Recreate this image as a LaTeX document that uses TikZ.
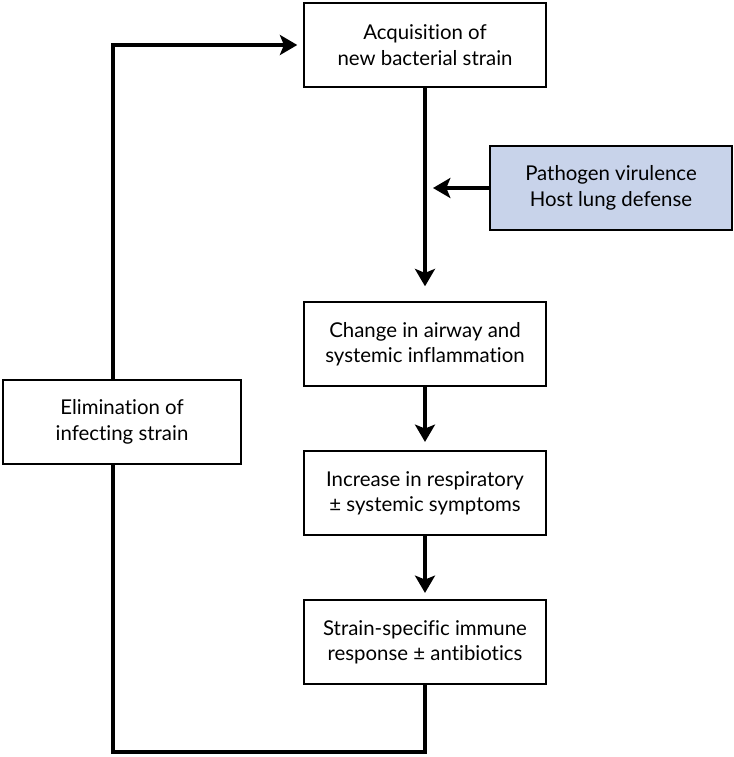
\documentclass[tikz,border=0pt]{standalone}
\usepackage{fontspec}
\setmainfont{Lato}[Ligatures={NoCommon,NoRare}]
\usetikzlibrary{arrows.meta}
\definecolor{hostblue}{RGB}{200,211,234}

\begin{document}
\begin{tikzpicture}[x=0.75pt, y=-0.75pt]
    \tikzstyle{StepBox}=[draw, line width=1.6pt, align=center,
        minimum width=181pt, minimum height=63pt, inner sep=0pt,
        font=\fontsize{15.3}{19}\selectfont]
    \tikzstyle{FactorBox}=[StepBox, fill=hostblue]
    \tikzstyle{Flow}=[line width=3pt, line join=miter,
        -{Stealth[length=13pt, width=15pt, inset=3pt]}]
    \tikzstyle{Loop}=[line width=3pt, line join=miter]
    \useasboundingbox (0,0) rectangle (733,757);
    \node[StepBox]   (acq)    at (425,45)  {Acquisition of\\new bacterial strain};
    \node[FactorBox] (host)   at (611,188) {Pathogen virulence\\Host lung defense};
    \node[StepBox]   (infl)   at (425,344) {Change in airway and\\systemic inflammation};
    \node[StepBox]   (symp)   at (425,493) {Increase in respiratory\\± systemic symptoms};
    \node[StepBox]   (immune) at (425,642) {Strain-specific immune\\response ± antibiotics};
    \node[StepBox, minimum width=178pt] (elim) at (122,422) {Elimination of\\infecting strain};
    \coordinate (hit) at (433,188);
    \coordinate (bl)  at (113,752);
    \coordinate (tl)  at (113,45);
    \draw[Flow, shorten >=11pt] (acq) -- (infl);
    \draw[Flow] (host) -- (hit);
    \draw[Flow, shorten >=6pt] (infl) -- (symp);
    \draw[Flow, shorten >=4.5pt] (symp) -- (immune);
    \draw[Loop] (immune.south) |- (bl) -- (bl |- elim.south);
    \draw[Flow, shorten >=4.5pt] (elim.north -| tl) -- (tl) -- (acq.west);
\end{tikzpicture}
\end{document}
